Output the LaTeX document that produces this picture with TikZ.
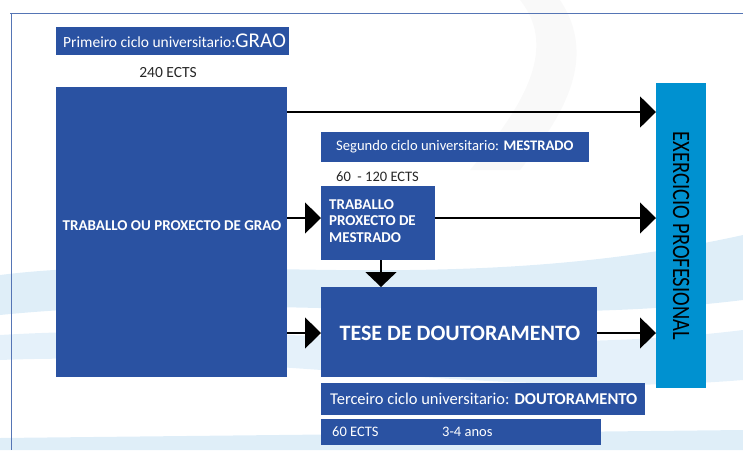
\documentclass[tikz,border=0pt]{standalone}
\usepackage{fontspec}
\setmainfont{Carlito}
\newfontfamily\narrowfont[FakeStretch=0.82]{Carlito}
\usetikzlibrary{arrows.meta}
\definecolor{dblue}{HTML}{2A52A2}
\definecolor{cblue}{HTML}{0091D0}
\definecolor{swoosh}{HTML}{BFDDF2}
\begin{document}
\begin{tikzpicture}[x=1pt,y=-1pt,
  box/.style={fill=dblue, draw=none, text=white, inner sep=0pt, anchor=north west},
  wtext/.style={text=white, inner sep=0pt},
  arr/.style={-{Triangle[length=16pt,width=31pt]}, line width=1.1pt},
  plain/.style={inner sep=0pt, text=black!85}
]
\useasboundingbox (0,0) rectangle (743,450);
% faint background swooshes
\fill[swoosh, opacity=0.5] (0,275) .. controls (200,250) and (450,300) .. (743,235)
  -- (743,300) .. controls (500,330) and (250,290) .. (0,315) -- cycle;
\fill[swoosh, opacity=0.4] (0,335) .. controls (250,320) and (500,360) .. (743,330)
  -- (743,380) .. controls (500,400) and (250,350) .. (0,360) -- cycle;
\fill[swoosh, opacity=0.5] (0,438) -- (743,430) -- (743,450) -- (0,450) -- cycle;
\fill[black!4, opacity=0.6] (560,0) .. controls (600,60) and (560,120) .. (520,170)
  -- (470,170) .. controls (520,110) and (560,50) .. (520,0) -- cycle;
% frame
\draw[dblue!80, line width=0.8pt] (10,13) -- (743,13);
\draw[dblue!80, line width=0.8pt] (11,13) -- (11,450);

% header GRAO
\node[box, minimum width=233pt, minimum height=28pt] (hgrao) at (56,27) {};
\node[wtext, anchor=base west] (hgraot) at (63,47)
  {{\fontsize{15.5}{18}\selectfont Primeiro ciclo universitario:}{\fontsize{21}{24}\selectfont GRAO}};
\node[plain, font=\fontsize{15.5}{18}\selectfont] (ects1) at (168,73) {240 ECTS};
% big box
\node[box, minimum width=231pt, minimum height=290pt] (grao) at (56,87) {};
\node[wtext, font=\fontsize{15}{18}\selectfont\bfseries] (graot) at (172,226)
  {TRABALLO OU PROXECTO DE GRAO};
% exercicio profesional
\node[fill=cblue, draw=none, inner sep=0pt, anchor=north west,
  minimum width=50pt, minimum height=305pt,
  label={[rotate=-90, text=black, inner sep=0pt, font=\narrowfont\fontsize{25}{28}\selectfont]center:EXERCICIO PROFESIONAL}] (ex) at (656,83) {};
% header MESTRADO
\node[box, minimum width=268pt, minimum height=30pt] (hmes) at (321,132) {};
\node[wtext, anchor=west, font=\fontsize{14.6}{17}\selectfont] (hmest) at (336,147)
  {Segundo ciclo universitario: \textbf{MESTRADO}};
\node[plain, anchor=west, font=\fontsize{14.5}{17}\selectfont] (ects2) at (336,177) {60\ \ - 120 ECTS};
% traballo mestrado
\node[box, minimum width=114pt, minimum height=74pt] (tm) at (321,186) {};
\node[wtext, align=left, anchor=north west, font=\fontsize{15}{16.5}\selectfont\bfseries] (tmt) at (329,199)
  {TRABALLO\\PROXECTO DE\\MESTRADO};
% tese
\node[box, minimum width=276pt, minimum height=90pt] (tese) at (321,287) {};
\node[wtext, font=\fontsize{22}{26}\selectfont\bfseries] (teset) at (460,333)
  {TESE DE DOUTORAMENTO};
% header DOUTORAMENTO
\node[box, minimum width=324pt, minimum height=32pt] (hdou) at (321,383) {};
\node[wtext, anchor=west, font=\fontsize{16.5}{19}\selectfont] (hdout) at (330,399)
  {Terceiro ciclo universitario: \textbf{DOUTORAMENTO}};
% bottom info
\node[box, minimum width=280pt, minimum height=26pt] (info) at (321,419) {};
\node[wtext, anchor=west, font=\fontsize{14.5}{17}\selectfont] (ects3) at (332,432) {60 ECTS};
\node[wtext, anchor=west, font=\fontsize{14.5}{17}\selectfont] (anos) at (442,432) {3-4 anos};

% connectors
\coordinate (y1) at (0,112);
\coordinate (y2) at (0,218);
\coordinate (y3) at (0,333);
\coordinate (xd) at (381,0);
\draw[arr, line width=1.8pt] (grao.east |- y1) -- (ex.west |- y1);
\draw[arr] (grao.east |- y2) -- (tm.west |- y2);
\draw[arr] (tm.east |- y2) -- (ex.west |- y2);
\draw[arr] (grao.east |- y3) -- (tese.west |- y3);
\draw[arr] (tese.east |- y3) -- (ex.west |- y3);
\draw[-{Triangle[length=15pt,width=31pt]}, line width=1.8pt] (xd |- tm.south) -- (xd |- tese.north);
\end{tikzpicture}
\end{document}
